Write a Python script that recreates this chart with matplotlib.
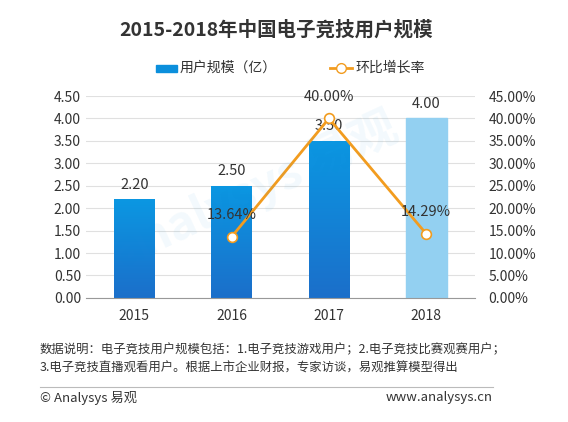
import numpy as np
import matplotlib.pyplot as plt
from matplotlib.colors import LinearSegmentedColormap

plt.rcParams['font.family'] = ['Noto Sans CJK SC', 'DejaVu Sans']

years = ['2015', '2016', '2017', '2018']
users = [2.20, 2.50, 3.50, 4.00]
growth = [None, 13.64, 40.00, 14.29]

title = '2015-2018年中国电子竞技用户规模'
bar_name = '用户规模（亿）'
line_name = '环比增长率'
note = ('数据说明：电子竞技用户规模包括：1.电子竞技游戏用户；2.电子竞技比赛观赛用户；\n'
        '3.电子竞技直播观看用户。根据上市企业财报，专家访谈，易观推算模型得出')

fig = plt.figure(figsize=(5.68, 4.22), dpi=100)
ax = fig.add_axes([0.151, 0.294, 0.685, 0.4785])
ax2 = ax.twinx()

x = np.arange(len(years))
w = 0.42
bars = ax.bar(x, users, width=w, color='#0b8fdc', zorder=2)
grad = LinearSegmentedColormap.from_list('g', ['#1b6fca', '#0b97e2'])
for i, b in enumerate(bars):
    if i == len(bars) - 1:
        b.set_color('#93d0f1')
        continue
    b.set_facecolor('none')
    im = ax.imshow(np.linspace(0, 1, 100).reshape(-1, 1), cmap=grad, origin='lower',
                   extent=[b.get_x(), b.get_x() + w, 0, b.get_height()],
                   aspect='auto', zorder=2)
    im.set_clip_path(b)

for xi, v in zip(x, users):
    ax.text(xi, v + 0.17, f'{v:.2f}', ha='center', va='bottom', fontsize=10.5, color='#333333', zorder=5)

ax.set_xlim(-0.5, 3.5)
ax.set_ylim(0, 4.5)
ax.set_yticks(np.arange(0, 4.51, 0.5))
ax.set_yticklabels([f'{t:.2f}' for t in np.arange(0, 4.51, 0.5)])
ax.set_xticks(x)
ax.set_xticklabels(years)
ax.grid(axis='y', color='#e0e0e0', lw=0.8, zorder=0)
ax.set_axisbelow(True)
for s in ['top', 'right', 'left']:
    ax.spines[s].set_visible(False)
ax.spines['bottom'].set_color('#999999')
ax.tick_params(axis='both', length=0, labelsize=10, colors='#333333')
ax.tick_params(axis='x', pad=8)

gx = [xi for xi, g in zip(x, growth) if g is not None]
gy = [g for g in growth if g is not None]
ax2.plot(gx, gy, color='#f29c1f', lw=2, marker='o', markersize=7,
         markerfacecolor='white', markeredgecolor='#f29c1f', markeredgewidth=1.2, zorder=4)
for xi, g in zip(gx, gy):
    ax2.text(xi, g + 3.2, f'{g:.2f}%', ha='center', va='bottom', fontsize=10.5, color='#333333', zorder=5)
ax2.set_ylim(0, 45)
ax2.set_yticks(np.arange(0, 45.1, 5))
ax2.set_yticklabels([f'{t:.2f}%' for t in np.arange(0, 45.1, 5)])
for s in ['top', 'right', 'left', 'bottom']:
    ax2.spines[s].set_visible(False)
ax2.tick_params(axis='y', length=0, labelsize=10, colors='#333333', pad=10)

# faint watermark
fig.text(0.45, 0.55, 'analysys 易观', fontsize=34, color='#0b8fdc', alpha=0.05,
         rotation=25, ha='center', va='center', fontweight='bold')

fig.text(0.486, 0.929, title, ha='center', va='center', fontsize=14, fontweight='bold', color='#333333')

# legend
fig.patches.append(plt.Rectangle((156 / 568, 1 - 72 / 422), 21 / 568, 7 / 422,
                                 color='#0b8fdc', transform=fig.transFigure))
fig.text(180 / 568, 1 - 68 / 422, bar_name, ha='left', va='center', fontsize=10, color='#333333')
fig.add_artist(plt.Line2D([330 / 568, 352 / 568], [1 - 68 / 422] * 2, color='#f29c1f', lw=2,
                          transform=fig.transFigure))
fig.add_artist(plt.Line2D([341 / 568], [1 - 68 / 422], marker='o', markersize=7, color='#f29c1f',
                          markerfacecolor='white', transform=fig.transFigure))
fig.text(355 / 568, 1 - 68 / 422, line_name, ha='left', va='center', fontsize=10, color='#333333')

fig.text(40 / 568, 1 - 359 / 422, note, ha='left', va='center', fontsize=8.9, color='#333333',
         linespacing=1.55)
fig.add_artist(plt.Line2D([40 / 568, 493 / 568], [1 - 387 / 422] * 2, color='#bbbbbb', lw=0.8,
                          transform=fig.transFigure))
fig.text(40 / 568, 1 - 398 / 422, '© Analysys 易观', ha='left', va='center', fontsize=9.5, color='#333333')
fig.text(493 / 568, 1 - 398 / 422, 'www.analysys.cn', ha='right', va='center', fontsize=9.5, color='#333333')

fig.savefig('out.png', dpi=100, facecolor='white')
